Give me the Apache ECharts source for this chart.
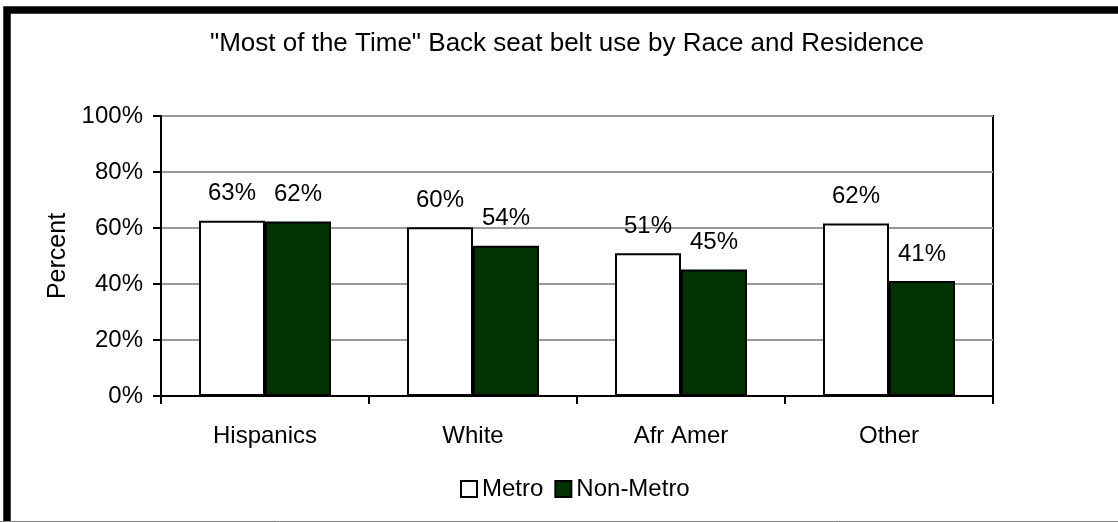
<!DOCTYPE html>
<html>
<head>
<meta charset="utf-8">
<script src="https://cdn.jsdelivr.net/npm/echarts@6/dist/echarts.min.js"></script>
<style>
html,body{margin:0;padding:0;background:#fff;}
#chart{width:1118px;height:522px;}
</style>
</head>
<body>
<div id="chart"></div>
<script>
var categories = ['Hispanics', 'White', 'Afr Amer', 'Other'];
var metroValues = [62.6, 60.3, 51.0, 61.6];
var nonMetroValues = [62.3, 53.7, 45.2, 41.1];
var yTickValues = [0, 20, 40, 60, 80, 100];
var seriesNames = ['Metro', 'Non-Metro'];
var titleText = '"Most of the Time" Back seat belt use by Race and Residence';
var yAxisTitle = 'Percent';

var FONT = '"Liberation Sans", Arial, sans-serif';
var chart = echarts.init(document.getElementById('chart'), null, {renderer: 'canvas'});

function labelFmt(p) { return Math.round(p.value) + '%'; }

var option = {
  animation: false,
  backgroundColor: '#ffffff',
  textStyle: {fontFamily: FONT},
  title: {
    text: titleText,
    left: 567,
    top: 31,
    padding: 0,
    textAlign: 'center',
    textStyle: {fontFamily: FONT, fontSize: 26, fontWeight: 'normal', color: '#000'}
  },
  legend: {
    data: seriesNames,
    left: 460,
    top: 477,
    padding: 0,
    icon: 'rect',
    itemWidth: 16,
    itemHeight: 16,
    itemGap: 11,
    textStyle: {fontFamily: FONT, fontSize: 24, color: '#000'}
  },
  grid: {
    left: 161, right: 125, top: 116, bottom: 126,
    show: true, borderColor: '#000', borderWidth: 2, backgroundColor: 'transparent'
  },
  xAxis: {
    type: 'category',
    data: categories,
    axisLine: {lineStyle: {color: '#000', width: 2}},
    axisTick: {show: true, length: 8, lineStyle: {color: '#000', width: 2}},
    axisLabel: {fontFamily: FONT, fontSize: 24, color: '#000', margin: 28},
    splitLine: {show: false}
  },
  yAxis: {
    type: 'value',
    min: yTickValues[0],
    max: yTickValues[yTickValues.length - 1],
    interval: yTickValues[1] - yTickValues[0],
    name: yAxisTitle,
    nameLocation: 'middle',
    nameGap: 89,
    nameTextStyle: {fontFamily: FONT, fontSize: 25, color: '#000'},
    axisLine: {show: true, lineStyle: {color: '#000', width: 2}},
    axisTick: {show: true, length: 8, lineStyle: {color: '#000', width: 2}},
    axisLabel: {fontFamily: FONT, fontSize: 24, color: '#000', margin: 18, formatter: '{value}%'},
    splitLine: {show: true, lineStyle: {color: '#999999', width: 2}}
  },
  series: [
    {
      name: seriesNames[0],
      type: 'bar',
      data: metroValues,
      barWidth: 66,
      barGap: '0%',
      itemStyle: {color: '#ffffff', borderColor: '#000', borderWidth: 2},
      label: {show: true, position: 'top', distance: 15, formatter: labelFmt,
        fontFamily: FONT, fontSize: 24, color: '#000'}
    },
    {
      name: seriesNames[1],
      type: 'bar',
      data: nonMetroValues,
      barWidth: 66,
      barGap: '0%',
      itemStyle: {color: '#003300', borderColor: '#000', borderWidth: 2},
      label: {show: true, position: 'top', distance: 15, formatter: labelFmt,
        fontFamily: FONT, fontSize: 24, color: '#000'}
    }
  ],
  graphic: [
    {
      type: 'rect',
      silent: true,
      z: 100,
      shape: {x: 7, y: 10, width: 1200, height: 600},
      style: {fill: 'none', stroke: '#000', lineWidth: 7.5}
    },
    {
      type: 'line',
      silent: true,
      z: 101,
      shape: {x1: 0, y1: 521.5, x2: 1118, y2: 521.5},
      style: {stroke: '#808080', lineWidth: 1}
    }
  ]
};
chart.setOption(option);
</script>
</body>
</html>
